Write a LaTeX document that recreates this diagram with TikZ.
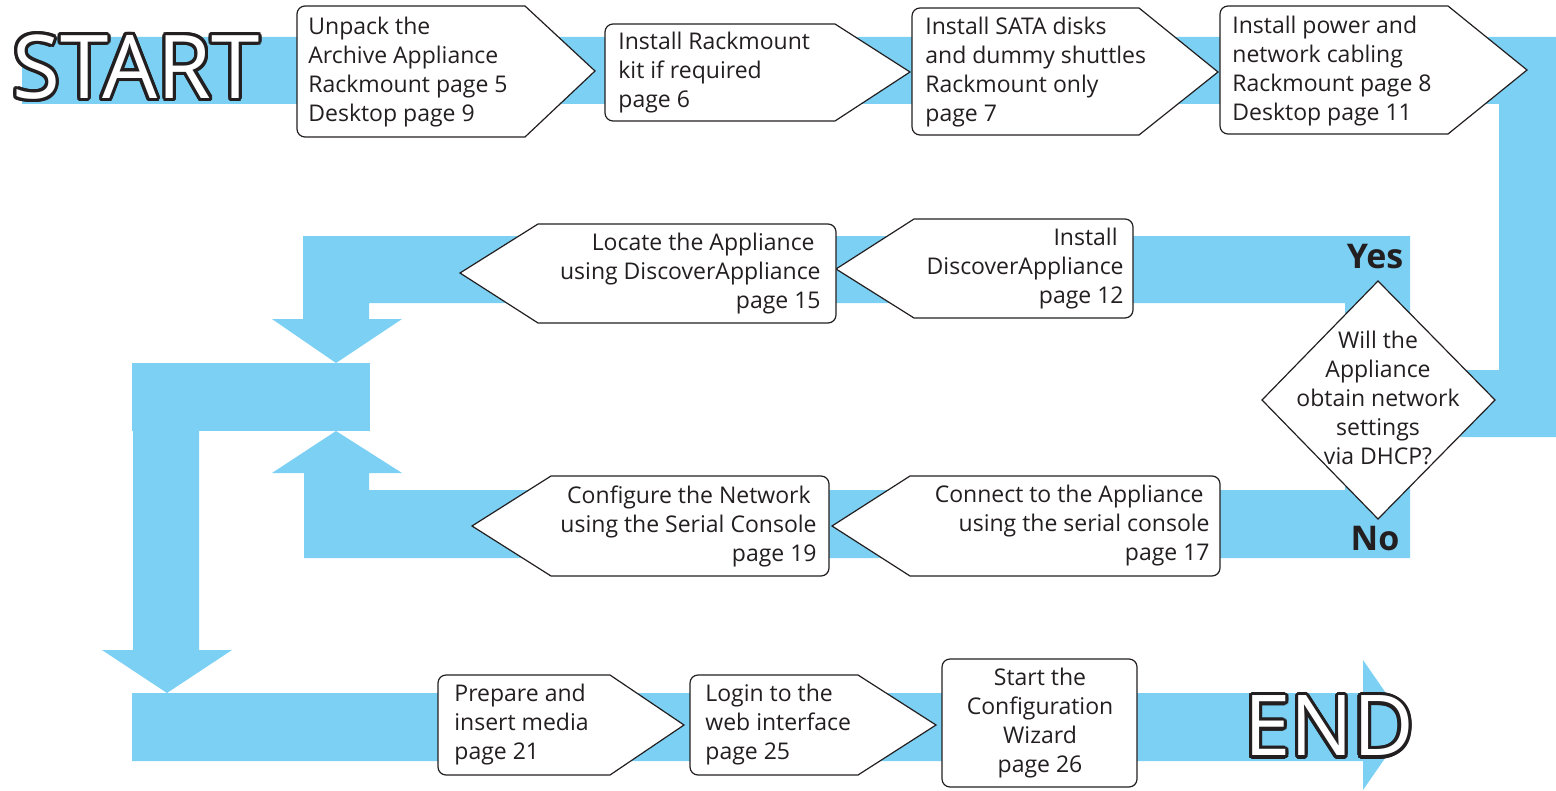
\documentclass[tikz,border=0pt]{standalone}
\usepackage{fontspec}
\setmainfont{Open Sans}
\newfontfamily\bigfont[FakeStretch=0.99]{Open Sans}
\definecolor{flowblue}{RGB}{123,208,243}
\definecolor{ink}{RGB}{35,31,32}

\begin{document}
\begin{tikzpicture}[x=0.5pt,y=-0.5pt,
    band/.style={fill=flowblue},
    box/.style={draw=ink,fill=white,line width=0.6pt},
    boxtext/.style={text=ink,inner sep=0pt,font=\fontsize{11.5}{14.5}\selectfont},
    lefttext/.style={boxtext,anchor=west,align=left},
    righttext/.style={boxtext,anchor=east,align=right},
    answer/.style={text=ink,inner sep=0pt,font=\bfseries\fontsize{17}{20}\selectfont},
    bigword/.style={inner sep=0pt}]
  \useasboundingbox (0,0) rectangle (1556,791);

  % blue bands
  \fill[band] (22,37) -- (1556,37) -- (1556,437) -- (1440,437) -- (1440,370)
              -- (1499,370) -- (1499,104) -- (22,104) -- cycle;          % top row
  \fill[band] (1410,320) -- (1410,236) -- (303,236) -- (303,319) -- (272,319)
              -- (336,363) -- (402,319) -- (369,319) -- (369,303) -- (1345,303)
              -- (1345,320) -- cycle;                                      % yes
  \fill[band] (1410,470) -- (1410,558) -- (304,558) -- (304,473) -- (272,473)
              -- (336,431) -- (402,473) -- (369,473) -- (369,490) -- (1345,490)
              -- (1345,470) -- cycle;                                      % no
  \fill[band] (132,363) rectangle (370,431);
  \fill[band] (133,431) -- (199,431) -- (199,650) -- (232,650) -- (167,693)
              -- (102,650) -- (133,650) -- cycle;
  \fill[band] (132,693) -- (1363,693) -- (1363,660) -- (1408,725) -- (1363,790)
              -- (1363,761) -- (132,761) -- cycle;                         % bottom row

  % top row
  \draw[box] (411,137) -- (525,137) -- (595,71) -- (525,6) [rounded corners=4pt] -- (297,6) -- (297,137) -- cycle;
  \draw[box] (720,121) -- (835,121) -- (910,72) -- (835,24) [rounded corners=4pt] -- (605,24) -- (605,121) -- cycle;
  \draw[box] (1025,135) -- (1139,135) -- (1218,72) -- (1139,8) [rounded corners=4pt] -- (912,8) -- (912,135) -- cycle;
  \draw[box] (1334,134) -- (1448,134) -- (1527,70) -- (1448,6) [rounded corners=4pt] -- (1220,6) -- (1220,134) -- cycle;
  \node[lefttext] (unpack) at (308,72) {Unpack the\\Archive Appliance\\Rackmount page 5\\Desktop page 9};
  \node[lefttext] (rack) at (618,73) {Install Rackmount\\kit if required\\page 6};
  \node[lefttext] (sata) at (925,72) {Install SATA disks\\and dummy shuttles\\Rackmount only\\page 7};
  \node[lefttext] (cabling) at (1232,71) {Install power and\\network cabling\\Rackmount page 8\\Desktop page 11};

  % middle rows
  \draw[box] (1020,219) -- (914,219) -- (836,269) -- (914,318) [rounded corners=4pt] -- (1133,318) -- (1133,219) -- cycle;
  \draw[box] (690,224) -- (538,224) -- (460,273) -- (538,323) [rounded corners=4pt] -- (836,323) -- (836,224) -- cycle;
  \draw[box] (1060,476) -- (910,476) -- (832,526) -- (910,576) [rounded corners=4pt] -- (1220,576) -- (1220,476) -- cycle;
  \draw[box] (690,476) -- (551,476) -- (472,526) -- (551,576) [rounded corners=4pt] -- (829,576) -- (829,476) -- cycle;
  \node[righttext] (install) at (1124,269) {Install\kern3pt\\DiscoverAppliance\\page 12};
  \node[righttext] (locate) at (821,274) {Locate the Appliance\kern3pt\\using DiscoverAppliance\\page 15};
  \node[righttext] (connect) at (1210,526) {Connect to the Appliance\kern3pt\\using the serial console\\page 17};
  \node[righttext] (configure) at (817,526) {Configure the Network\kern3pt\\using the Serial Console\\page 19};

  % question
  \draw[box] (1262,400) -- (1378,281) -- (1495,400) -- (1378,519) -- cycle;
  \node[boxtext,align=center] (dhcp) at (1378,398) {Will the\\Appliance\\obtain network\\settings\\via DHCP?};
  \node[answer] (yes) at (1375,257) {Yes};
  \node[answer] (no) at (1375,539) {No};

  % bottom row
  \draw[box] (524,775) -- (610,775) -- (684,725) -- (610,675) [rounded corners=4pt] -- (438,675) -- (438,775) -- cycle;
  \draw[box] (774,775) -- (858,775) -- (936,725) -- (858,675) [rounded corners=4pt] -- (690,675) -- (690,775) -- cycle;
  \draw[box, rounded corners=4pt] (942,659) rectangle (1137,787);
  \node[lefttext] (media) at (454,725) {Prepare and\\insert media\\page 21};
  \node[lefttext] (login) at (705,725) {Login to the\\web interface\\page 25};
  \node[boxtext,align=center] (wizard) at (1040,723) {Start the\\Configuration\\Wizard\\page 26};

  % START and END: dark copies all round, white letters on top
  \foreach \a in {0,20,...,340} {
    \node[bigword,text=ink,shift={(\a:1.6pt)},font=\bigfont\fontsize{44}{44}\selectfont] (start\a) at (136,67) {START};
    \node[bigword,text=ink,shift={(\a:1.6pt)},font=\bigfont\fontsize{42}{42}\selectfont] (end\a) at (1329,726) {END};
  }
  \node[bigword,text=white,font=\bigfont\fontsize{44}{44}\selectfont] (start) at (136,67) {START};
  \node[bigword,text=white,font=\bigfont\fontsize{42}{42}\selectfont] (end) at (1329,726) {END};
\end{tikzpicture}
\end{document}
